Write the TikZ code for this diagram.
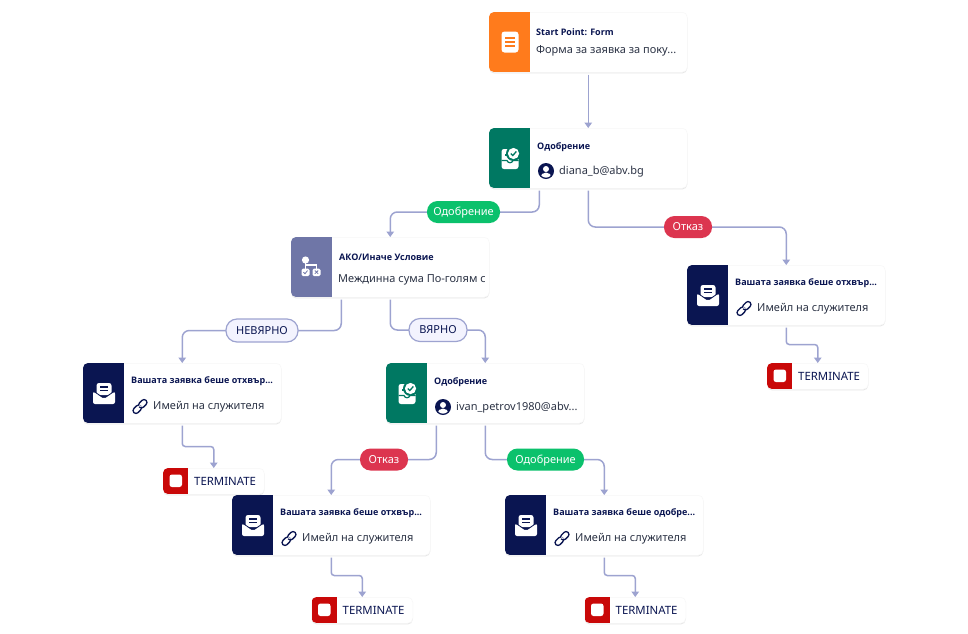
\documentclass[tikz,border=0pt]{standalone}
\usepackage{fontspec}
\setmainfont{Noto Sans}
\newfontfamily\ttlfont{Open Sans}
\usetikzlibrary{shadows,calc,arrows.meta}
\definecolor{navy}{HTML}{0A1551}
\definecolor{ink}{HTML}{2C3345}
\definecolor{wire}{HTML}{9DA3D0}
\definecolor{orangeC}{HTML}{FF7B1C}
\definecolor{greenC}{HTML}{007862}
\definecolor{slateC}{HTML}{6F76A7}
\definecolor{redC}{HTML}{C90808}
\definecolor{okC}{HTML}{0BC16C}
\definecolor{noC}{HTML}{DC354F}
\definecolor{pillF}{HTML}{F3F3FE}
\tikzset{
 cardbox/.style={anchor=north west,fill=white,draw=black!3,line width=.5pt,rounded corners=5pt,minimum width=198pt,minimum height=60pt,inner sep=0,
   drop shadow={shadow xshift=0pt,shadow yshift=-1.2pt,opacity=.16,fill=black!60}},
 termbox/.style={anchor=north west,fill=white,draw=black!3,line width=.5pt,rounded corners=5pt,minimum width=101pt,minimum height=26pt,inner sep=0,
   drop shadow={shadow xshift=0pt,shadow yshift=-1.2pt,opacity=.16,fill=black!60}},
 ttl/.style={anchor=west,inner sep=0,text height=6.4pt,text depth=0pt,font=\fontsize{9}{10}\ttlfont\bfseries\selectfont,text=navy},
 sub/.style={anchor=west,inner sep=0,text height=7.6pt,text depth=0pt,font=\fontsize{11}{12}\selectfont,text=ink},
 conn/.style={draw=wire,line width=1.5pt,rounded corners=7pt,-{Triangle[length=5.5pt,width=7.5pt]},shorten <=2pt},
 connT/.style={conn,rounded corners=3pt},
 pillbase/.style={rounded corners=10.5pt,minimum height=22pt,inner sep=0,text height=7.6pt,text depth=0pt,font=\fontsize{11}{12}\selectfont},
 pillok/.style={pillbase,fill=okC,text=white},
 pillno/.style={pillbase,fill=noC,text=white},
 pilln/.style={pillbase,fill=pillF,draw=wire,line width=1.2pt,text=navy,rounded corners=11pt,minimum height=23pt},
}
\newcommand{\cardshell}[4]{%
 \begin{scope}[shift={(#2,#3)}]
  \node[cardbox] (#1) at (0,0) {};
  \begin{scope}
   \clip[rounded corners=5pt] (0,0) rectangle (198,60);
   \fill[#4] (0,0) rectangle (41,60);
  \end{scope}
 \end{scope}}
\newcommand{\icoDoc}[2]{\begin{scope}[shift={(#1,#2)}]
 \fill[white,rounded corners=3pt] (-8.5,-10.5) rectangle (8.5,10.5);
 \foreach \yy in {-4,0,4}{\draw[orangeC,line width=1.7pt] (-5,\yy) -- (5,\yy);}
\end{scope}}
\newcommand{\icoApp}[2]{\begin{scope}[shift={(#1,#2)}]
 \fill[white,rounded corners=2.5pt] (-8.5,-8) rectangle (8.5,12);
 \draw[greenC,line width=1.2pt] (-8.5,3.5) -- (-3,3.5) .. controls (-2,6.5) and (2,6.5) .. (3,3.5) -- (8.5,3.5);
 \draw[greenC,line width=1.2pt] (-5,-2) -- (-1,-2);
 \fill[greenC] (3.5,-3.5) circle (7.5);
 \fill[white] (3.5,-3.5) circle (5.6);
 \draw[greenC,line width=1.3pt] (0.8,-3.5) -- (2.8,-1.5) -- (6.3,-5.5);
\end{scope}}
\newcommand{\icoIf}[2]{\begin{scope}[shift={(#1,#2)}]
 \fill[white] (-5.5,-9) circle (3.6);
 \draw[white,line width=1.2pt] (-5.5,-9) -- (-5.5,0);
 \draw[white,line width=1.2pt] (-5.5,-4) -- (5.5,-4) -- (5.5,0);
 \fill[white,rounded corners=1.5pt] (-9.5,-0.5) rectangle (-1.5,7);
 \fill[white,rounded corners=1.5pt] (1.5,-0.5) rectangle (9.5,7);
 \draw[slateC,line width=.8pt] (-7.5,3.2) -- (-6,4.8) -- (-3.5,1.5);
 \draw[slateC,line width=.8pt] (3.8,1.5) -- (7.2,4.8) (7.2,1.5) -- (3.8,4.8);
\end{scope}}
\newcommand{\icoMail}[2]{\begin{scope}[shift={(#1,#2)}]
 \fill[white,rounded corners=2.5pt] (-7.5,-11) rectangle (7.5,1);
 \draw[navy,line width=1.2pt] (-4,-7) -- (4,-7) (-4,-3.5) -- (4,-3.5);
 \draw[navy,line width=1pt] (-11.5,-3.5) -- (0,4.4) -- (11.5,-3.5);
 \fill[white,rounded corners=2pt] (-11,-2.5) -- (0,5) -- (11,-2.5) -- (11,10) -- (-11,10) -- cycle;
\end{scope}}
\newcommand{\icoUser}[2]{\begin{scope}[shift={(#1,#2)}]
 \fill[navy] (0,0) circle (8);
 \fill[white] (0,-2) circle (3);
 \begin{scope}\clip (0,0) circle (6.6);
  \fill[white] (0,6.5) ellipse (5.5 and 5);
 \end{scope}
\end{scope}}
\newcommand{\icoLink}[2]{\begin{scope}[shift={(#1,#2)},rotate=45]
 \draw[navy,line width=1.3pt,rounded corners=2.8pt] (-8.6,-2.9) rectangle (0.8,2.9);
 \draw[white,line width=3pt] (-1,0) -- (1,0);
 \draw[navy,line width=1.3pt,rounded corners=2.8pt] (-0.8,-2.9) rectangle (8.6,2.9);
 \draw[white,line width=2.2pt] (-0.8,-1.4) -- (-0.8,-.4);
\end{scope}}
\newcommand{\mailcard}[4]{%
 \cardshell{#1}{#2}{#3}{navy}
 \icoMail{#2+21}{#3+31}
 \node[ttl] (#1-title) at (#2+48,#3+17) {#4};
 \icoLink{#2+57}{#3+43.5}
 \node[sub] (#1-sub) at (#2+70,#3+43) {Имейл на служителя};}
\newcommand{\termcard}[3]{%
 \begin{scope}[shift={(#2,#3)}]
  \node[termbox] (#1) at (0,0) {};
  \begin{scope}
   \clip[rounded corners=5pt] (0,0) rectangle (101,26);
   \fill[redC] (0,0) rectangle (25,26);
  \end{scope}
  \fill[white,rounded corners=2.5pt] (6.5,6.5) rectangle (19,19);
  \node[anchor=west,inner sep=0,text height=8pt,text depth=0pt,font=\fontsize{11.4}{12}\selectfont,text=navy] (#1-label) at (31,13) {TERMINATE};
 \end{scope}}
\begin{document}
\begin{tikzpicture}[x=1pt,y=-1pt]
\useasboundingbox (0,0) rectangle (968,633);
\fill[white] (0,0) rectangle (968,633);

\cardshell{start}{489}{12}{orangeC}
\icoDoc{510}{42}
\node[ttl] (start-title) at (536,32) {Start Point: Form};
\node[sub] (start-sub) at (536,50) {Форма за заявка за поку...};

\cardshell{appA}{489}{128}{greenC}
\icoApp{510}{157}
\node[ttl] (appA-title) at (537,146) {Одобрение};
\icoUser{546}{171}
\node[sub] (appA-sub) at (559,171) {diana\_b@abv.bg};

\cardshell{cond}{291}{237}{slateC}
\icoIf{311}{269}
\node[ttl] (cond-title) at (339,257) {АКО/Иначе Условие};
\begin{scope}
 \clip (330,270) rectangle (484,290);
 \node[sub] (cond-sub) at (338,279) {Междинна сума По-голям с};
\end{scope}

\cardshell{appB}{386}{363}{greenC}
\icoApp{407}{392}
\node[ttl] (appB-title) at (434,381) {Одобрение};
\icoUser{443}{407}
\node[sub] (appB-sub) at (456,407) {ivan\_petrov1980@abv...};

\mailcard{mailR}{687}{265}{Вашата заявка беше отхвър...}
\mailcard{mailL}{83}{363}{Вашата заявка беше отхвър...}
\mailcard{mailM}{232}{495}{Вашата заявка беше отхвър...}
\mailcard{mailG}{505}{495}{Вашата заявка беше одобре...}

\termcard{termR}{767}{363}
\termcard{termL}{163}{468}
\termcard{termM}{311.5}{597}
\termcard{termG}{584.5}{597}

\coordinate (p1) at (463.5,212);
\coordinate (p2) at (688,227);
\coordinate (p3) at (262,330.5);
\coordinate (p4) at (438,330);
\coordinate (p5) at (384,459.5);
\coordinate (p6) at (545.5,459.5);

\draw[conn] (start.south) -- (appA.north);
\draw[conn] ($(appA.south)+(-49,0)$) |- (p1) -| (cond.north);
\draw[conn] (appA.south) |- (p2) -| (mailR.north);
\draw[conn] ($(cond.south)+(-49,0)$) |- (p3) -| (mailL.north);
\draw[conn] (cond.south) |- (p4) -| (appB.north);
\draw[conn] ($(appB.south)+(-49,0)$) |- (p5) -| (mailM.north);
\draw[conn] (appB.south) |- (p6) -| (mailG.north);
\draw[connT] (mailL.south) -- ++(0,23) -| (termL.north);
\draw[connT] (mailR.south) -- ++(0,19) -| (termR.north);
\draw[connT] (mailM.south) -- ++(0,20) -| (termM.north);
\draw[connT] (mailG.south) -- ++(0,20) -| (termG.north);

\node[pillok,minimum width=73pt] (pillA) at (p1) {Одобрение};
\node[pillno,minimum width=48pt] (pillB) at (p2) {Отказ};
\node[pilln,minimum width=72pt] (pillC) at (p3) {НЕВЯРНО};
\node[pilln,minimum width=58pt] (pillD) at (p4) {ВЯРНО};
\node[pillno,minimum width=48pt] (pillE) at (p5) {Отказ};
\node[pillok,minimum width=77pt] (pillF) at (p6) {Одобрение};
\end{tikzpicture}
\end{document}
